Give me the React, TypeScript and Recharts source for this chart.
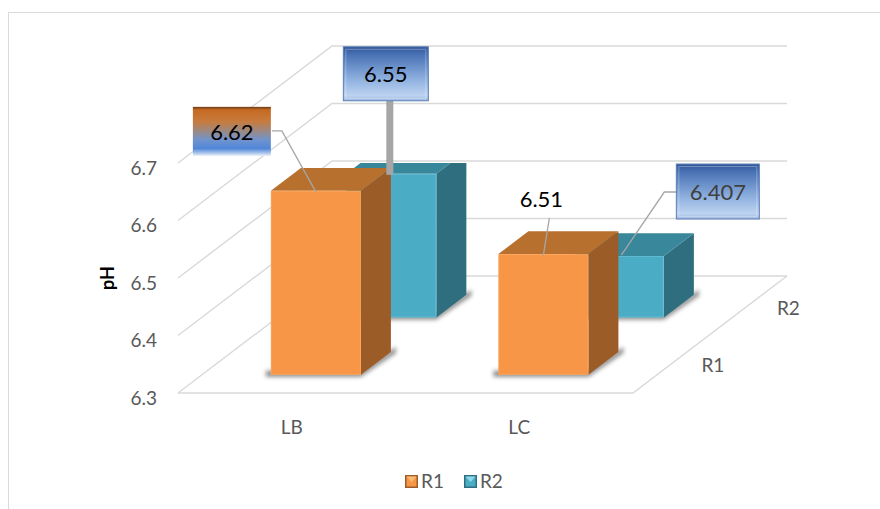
import React from 'react';
import { BarChart, Bar, XAxis, YAxis, CartesianGrid, Legend, LabelList } from 'recharts';

// pH readings per sample, two replicate series
const categories = ['LB', 'LC'];
const seriesNames = ['R1', 'R2'];
const r1Values = [6.62, 6.51];
const r2Values = [6.55, 6.407];
const yTicks = [6.3, 6.4, 6.5, 6.6, 6.7];

const data = categories.map((cat, i) => ({ cat, R1: r1Values[i], R2: r2Values[i] }));

const FONT = 'Lato, "Open Sans", sans-serif';
const AXIS_TEXT = '#595959';
const GRID = '#d9d9d9';

// oblique projection of the depth axis: full floor depth in screen px
const FLOOR = { dx: 154, dy: -117 };
const BOX_DEPTH = 0.195;
const ROW_DEPTH: Record<string, number> = { R1: 0.155, R2: 0.645 };

const FACES: Record<string, { front: string; top: string; side: string; light: string }> = {
  R1: { front: '#F79646', top: '#B8702F', side: '#9C5C28', light: '#FBB978' },
  R2: { front: '#4BACC6', top: '#38879A', side: '#2E6E7E', light: '#8FD6E8' },
};

// hand-placed data labels, offsets from the front-top centre of each box
type LabelSpec = {
  fill?: string;
  box?: { x: number; y: number; w: number; h: number };
  text: { x: number; y: number };
  leader: number[][];
  leaderWidth: number;
  color: string;
};

const LABELS: Record<string, LabelSpec[]> = {
  R1: [
    {
      fill: 'url(#lblOrangeBlue)',
      box: { x: -123, y: -84, w: 78, h: 49 },
      text: { x: -84, y: -59.5 },
      leader: [[0, 1], [-34, -60], [-44, -60]],
      leaderWidth: 1.3,
      color: '#000',
    },
    {
      text: { x: -2, y: -56 },
      leader: [[6, -36], [0, 1]],
      leaderWidth: 1.3,
      color: '#000',
    },
  ],
  R2: [
    {
      fill: 'url(#lblBlue)',
      box: { x: -48, y: -127, w: 85, h: 54 },
      text: { x: -5.5, y: -100 },
      leader: [[-1.5, 1], [-1.5, -73]],
      leaderWidth: 7,
      color: '#000',
    },
    {
      fill: 'url(#lblBlue)',
      box: { x: 57.5, y: -92, w: 83, h: 55 },
      text: { x: 99, y: -64.5 },
      leader: [[2.5, -1], [45.5, -64], [57.5, -64]],
      leaderWidth: 1.3,
      color: '#404040',
    },
  ],
};

const pts = (list: number[][]) => list.map((p) => p.join(',')).join(' ');

const makeBox = (key: string) => (props: any) => {
  const { x, y, width, height } = props;
  if (height == null || width == null) return null;
  const f = ROW_DEPTH[key];
  const fx = x + FLOOR.dx * f;
  const fy = y + FLOOR.dy * f;
  const bx = FLOOR.dx * BOX_DEPTH;
  const by = FLOOR.dy * BOX_DEPTH;
  const bottom = fy + height;
  const c = FACES[key];
  const shadow = [
    [fx - 5, bottom + 2],
    [fx + width, bottom + 2],
    [fx + width + bx + 5, bottom + by + 1],
    [fx + width + bx + 5, bottom + by - 5],
    [fx + width, bottom - 4],
    [fx - 5, bottom - 4],
  ];
  const top = [
    [fx, fy],
    [fx + bx, fy + by],
    [fx + width + bx, fy + by],
    [fx + width, fy],
  ];
  const side = [
    [fx + width, fy],
    [fx + width + bx, fy + by],
    [fx + width + bx, bottom + by],
    [fx + width, bottom],
  ];
  return (
    <g>
      <polygon points={pts(shadow)} fill="#2b2b2b" opacity={0.55} filter="url(#barShadow)" />
      <polygon points={pts(side)} fill={c.side} />
      <polygon points={pts(top)} fill={c.top} />
      <rect x={fx} y={fy} width={width} height={height} fill={c.front} />
      <rect x={fx + 0.5} y={fy + 0.5} width={width - 1} height={height - 1} fill="none" stroke={c.light} strokeOpacity={0.35} />
    </g>
  );
};

const makeLabel = (key: string) => (props: any) => {
  const vb = props.viewBox || props;
  const { x, y, width } = vb;
  const spec = LABELS[key][props.index];
  if (!spec || x == null) return null;
  const f = ROW_DEPTH[key];
  const ax = x + width / 2 + FLOOR.dx * f;
  const ay = y + FLOOR.dy * f;
  const leader = spec.leader.map(([dx, dy]) => [ax + dx, ay + dy]);
  return (
    <g>
      <polyline
        points={pts(leader)}
        fill="none"
        stroke="#a6a6a6"
        strokeWidth={spec.leaderWidth}
        strokeLinejoin="miter"
      />
      {spec.box && (
        <g>
          <rect
            x={ax + spec.box.x}
            y={ay + spec.box.y}
            width={spec.box.w}
            height={spec.box.h}
            fill={spec.fill}
            stroke={spec.fill === 'url(#lblBlue)' ? '#5b7fb8' : 'none'}
          />
          {spec.fill === 'url(#lblBlue)' && (
            <rect
              x={ax + spec.box.x + 2.5}
              y={ay + spec.box.y + 2.5}
              width={spec.box.w - 5}
              height={spec.box.h - 5}
              fill="none"
              stroke="#ffffff"
              strokeOpacity={0.3}
            />
          )}
        </g>
      )}
      <text
        x={ax + spec.text.x}
        y={ay + spec.text.y}
        textAnchor="middle"
        dominantBaseline="central"
        fontFamily={FONT}
        fontSize={22}
        fill={spec.color}
      >
        {String(props.value)}
      </text>
    </g>
  );
};

// side wall and back wall lines for each value tick; the lowest one also closes the floor
const renderWallLine = (props: any) => {
  const { x1, x2, y1 } = props;
  const points: number[] = Array.isArray(props.horizontalPoints) ? props.horizontalPoints : [];
  const floorY = points.length ? Math.max(...points) : props.y + props.height;
  const isFloor = Math.abs(y1 - floorY) < 0.5;
  const d = `M${x1},${y1} L${x1 + FLOOR.dx},${y1 + FLOOR.dy} L${x2 + FLOOR.dx},${y1 + FLOOR.dy}`;
  return (
    <g key={props.key}>
      <path d={d} fill="none" stroke={GRID} strokeWidth={1.4} />
      {isFloor && (
        <g>
          <path
            d={`M${x1},${y1} L${x2},${y1} L${x2 + FLOOR.dx},${y1 + FLOOR.dy}`}
            fill="none"
            stroke={GRID}
            strokeWidth={1.4}
          />
          {seriesNames.map((name) => {
            const f = ROW_DEPTH[name] + BOX_DEPTH / 2;
            return (
              <text
                key={name}
                x={x2 + FLOOR.dx * f + 41}
                y={y1 + FLOOR.dy * f + 1}
                textAnchor="middle"
                dominantBaseline="central"
                fontFamily={FONT}
                fontSize={19}
                fill={AXIS_TEXT}
              >
                {name}
              </text>
            );
          })}
        </g>
      )}
    </g>
  );
};

const ValueTick = (props: any) => {
  const { x, y, payload } = props;
  return (
    <text x={x} y={y + 4} textAnchor="end" dominantBaseline="central" fontFamily={FONT} fontSize={19} fill={AXIS_TEXT}>
      {payload.value}
    </text>
  );
};

const CategoryTick = (props: any) => {
  const { x, y, payload } = props;
  return (
    <text x={x} y={y} textAnchor="middle" dominantBaseline="central" fontFamily={FONT} fontSize={19} fill={AXIS_TEXT}>
      {payload.value}
    </text>
  );
};

const LegendIcon = ({ name }: { name: string }) => {
  const c = FACES[name];
  return (
    <svg width={13} height={13} style={{ display: 'block' }}>
      <rect x={0} y={0} width={13} height={13} fill={c.side} />
      <rect x={1.5} y={1.5} width={10} height={10} fill={c.front} />
      <polygon points="1.5,1.5 11.5,1.5 6.5,7" fill={c.light} />
    </svg>
  );
};

const renderLegend = () => (
  <div style={{ display: 'flex', alignItems: 'center', fontFamily: FONT, fontSize: 19, color: AXIS_TEXT }}>
    {seriesNames.map((name) => (
      <div key={name} style={{ display: 'flex', alignItems: 'center', marginRight: 20 }}>
        <LegendIcon name={name} />
        <span style={{ marginLeft: 3, lineHeight: '20px' }}>{name}</span>
      </div>
    ))}
  </div>
);

export default function App() {
  return (
    <div style={{ position: 'absolute', left: 0, top: 0, width: 880, height: 509, overflow: 'hidden', background: '#fff' }}>
      <div
        style={{
          position: 'absolute',
          left: 8,
          top: 12,
          width: 900,
          height: 600,
          border: `1px solid ${GRID}`,
          boxSizing: 'border-box',
        }}
      />
      <div style={{ position: 'absolute', left: 0, top: 0 }}>
        <BarChart width={880} height={509} data={data} margin={{ top: 163, right: 247, bottom: 86, left: 118 }}>
          <defs>
            <filter id="barShadow" x="-20%" y="-50%" width="140%" height="200%">
              <feGaussianBlur stdDeviation={2} />
            </filter>
            <linearGradient id="lblOrangeBlue" x1="0" y1="0" x2="0" y2="1">
              <stop offset="0" stopColor="#6b3a17" />
              <stop offset="0.06" stopColor="#c56a22" />
              <stop offset="0.3" stopColor="#c77b3e" />
              <stop offset="0.5" stopColor="#9a8a86" />
              <stop offset="0.68" stopColor="#6f93cf" />
              <stop offset="0.85" stopColor="#4f86d8" />
              <stop offset="0.93" stopColor="#9fbde8" />
              <stop offset="1" stopColor="#e8eef8" />
            </linearGradient>
            <linearGradient id="lblBlue" x1="0" y1="0" x2="0" y2="1">
              <stop offset="0" stopColor="#2f5597" />
              <stop offset="0.15" stopColor="#4a73b5" />
              <stop offset="0.6" stopColor="#8eb0df" />
              <stop offset="0.9" stopColor="#bcd2f0" />
              <stop offset="1" stopColor="#9fb8de" />
            </linearGradient>
          </defs>
          <CartesianGrid vertical={false} horizontal={renderWallLine} />
          <XAxis
            xAxisId="front"
            dataKey="cat"
            axisLine={false}
            tickLine={false}
            tickMargin={-3}
            tick={<CategoryTick />}
            height={30}
          />
          <XAxis xAxisId="back" dataKey="cat" hide />
          <YAxis
            type="number"
            domain={[6.3, 6.7]}
            ticks={yTicks}
            allowDataOverflow
            axisLine={false}
            tickLine={false}
            tickMargin={15}
            width={60}
            tick={<ValueTick />}
            label={(p: any) => {
              const vb = p.viewBox || {};
              return (
                <text
                  x={vb.x - 11}
                  y={vb.y + vb.height / 2}
                  transform={`rotate(-90 ${vb.x - 11} ${vb.y + vb.height / 2})`}
                  textAnchor="middle"
                  dominantBaseline="central"
                  fontFamily={FONT}
                  fontWeight={700}
                  fontSize={18}
                  fill="#000"
                >
                  pH
                </text>
              );
            }}
          />
          <Legend
            layout="horizontal"
            verticalAlign="middle"
            align="center"
            content={renderLegend}
            wrapperStyle={{ top: 471, left: 405, width: 'auto' }}
          />
          <Bar xAxisId="back" dataKey="R2" name="R2" barSize={90} fill={FACES.R2.front} shape={makeBox('R2')} isAnimationActive={false}>
            <LabelList dataKey="R2" content={makeLabel('R2')} />
          </Bar>
          <Bar xAxisId="front" dataKey="R1" name="R1" barSize={90} fill={FACES.R1.front} shape={makeBox('R1')} isAnimationActive={false}>
            <LabelList dataKey="R1" content={makeLabel('R1')} />
          </Bar>
        </BarChart>
      </div>
    </div>
  );
}
